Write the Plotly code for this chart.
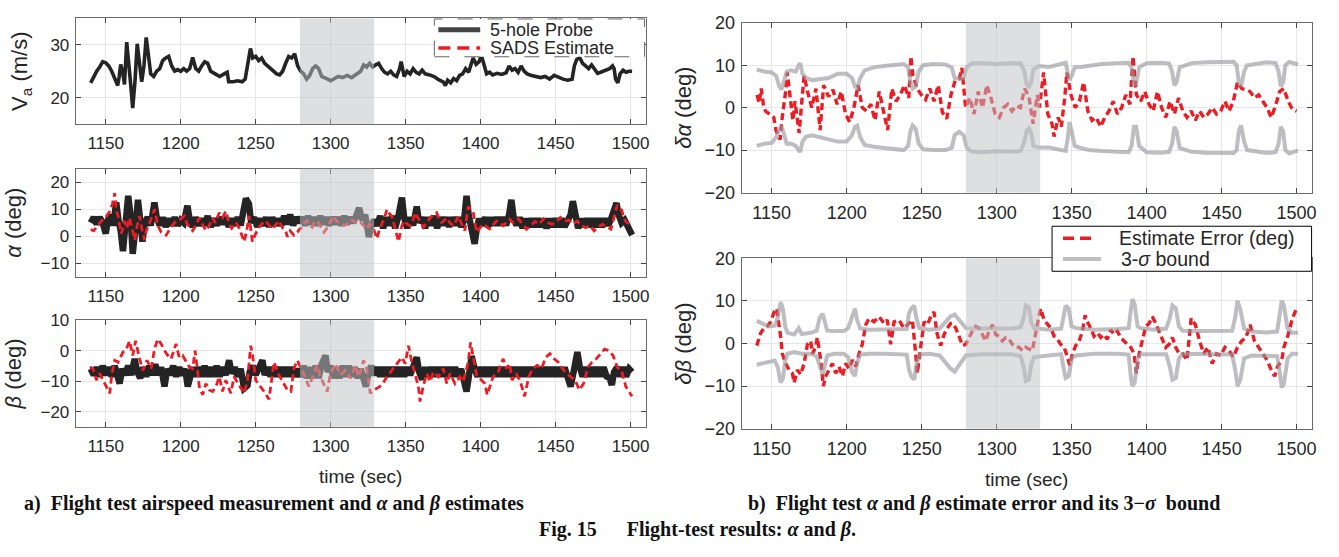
import plotly.graph_objects as go

# ---------------- data (time [s], value) ----------------
VA = [(1140,22.8),(1142,24),(1144,25),(1146,25.8),(1148,26.8),(1150,26.6),(1152,26),(1154,25),(1156,23.8),(1158,22.3),(1159,24),(1160,26.3),(1161.5,24.5),(1162.5,22.5),(1164,30.5),(1165,28),(1166.5,23),(1168,18),(1169.5,23),(1171,30.2),(1172.5,27),(1174,23),(1175.5,26),(1177,31.4),(1178.5,28),(1180,24.5),(1182,24),(1184,25),(1186,25.5),(1188,27),(1190,27.5),(1192,27.8),(1194,26),(1196,25),(1198,25.3),(1200,25),(1202,25.5),(1204,25),(1206,25.5),(1208,27.6),(1210,25.5),(1212,25),(1214,26),(1216,26.8),(1218,26.5),(1220,25),(1223,24.5),(1226,24),(1229,24.5),(1231,24.8),(1232,23),(1235,23),(1238,23.2),(1241,23),(1243,23.5),(1245,27.5),(1246.5,29.3),(1248,27.5),(1250,27.8),(1252,27),(1254,27.5),(1256,26.5),(1258,26),(1260,25.5),(1262,24.8),(1264,24.5),(1266,24.3),(1268,25),(1270,26.5),(1272,27.8),(1274,27.5),(1276,28.3),(1278,26),(1280,25),(1282,24.5),(1284,23.5),(1286,24.2),(1288,25.5),(1290,26),(1292,25.5),(1294,24),(1296,23.8),(1298,23.5),(1300,23.2),(1302,23.5),(1305,24),(1308,23.8),(1311,24.2),(1314,23.8),(1317,24.5),(1320,25),(1322,26.2),(1324,25.8),(1326,26.5),(1328,25.8),(1330,26.2),(1332,26.5),(1334,25.5),(1336,24.8),(1338,24.5),(1340,25),(1342,24.3),(1344,24),(1346,25.5),(1347,26.8),(1349,24),(1351,25),(1353,24.5),(1355,25.5),(1357,24.8),(1359,24.5),(1361,25.2),(1363,24.5),(1366,24.3),(1369,24),(1372,23.4),(1375,23),(1376.5,22.3),(1378,23.3),(1380,22.8),(1382,23.6),(1384,23.2),(1386,24.2),(1388,24.5),(1390,25.5),(1392,24.8),(1394,26.5),(1395,27.5),(1397,26.3),(1399,26.8),(1400.5,28),(1402,26.5),(1404,24.5),(1406,24.8),(1408,24.3),(1411,24.6),(1414,24.4),(1417,24.7),(1419,26),(1421,25.2),(1423,25.5),(1425,24.8),(1427,26),(1429,25),(1431,24.5),(1434,24.2),(1437,24),(1440,23.8),(1443,24),(1446,23.5),(1449,24.2),(1452,23.8),(1455,23.5),(1458,23.3),(1461,23.5),(1462.5,26),(1464,27.2),(1466,27.6),(1468,26.5),(1470,26),(1472,25.5),(1474,26.2),(1476,25.5),(1478,24.6),(1480,24.8),(1482,25),(1484,25.2),(1486,25.5),(1488,26),(1489,25.5),(1490,23.5),(1491.5,22.8),(1493,24.5),(1495,25.2),(1497,24.8),(1499,25),(1501,25)]

ALPHA_PROBE = [(1140,5),(1142,7),(1144,4.5),(1146,7),(1148,5),(1150,1),(1151.5,6),(1153,8),(1155,4),(1157,12.5),(1158.5,6),(1160,2),(1161.5,-5.5),(1163,4),(1165,15),(1166.5,8),(1168,-6.5),(1170,4),(1171.5,13.5),(1173,6),(1174.5,-2),(1176,5),(1178,7),(1180,4),(1182.5,12.5),(1184,7),(1186,4),(1188,7),(1190,3.5),(1192,6.5),(1194,4),(1196,7),(1198,4),(1200,6),(1202,5),(1204.5,11.3),(1206,6),(1208,3.5),(1210,7),(1212,4),(1214,6.5),(1216,4),(1218,7.5),(1220,3.5),(1222,6.5),(1224,4),(1226,7),(1228,4.5),(1230,7),(1232,3.5),(1234,6.5),(1236,4),(1238,7),(1240,4),(1243.5,14),(1245.5,12),(1247,5),(1249,7),(1251,3.5),(1253,6.5),(1255,4),(1257,7),(1259,3.5),(1261,7),(1263,4),(1265,6.5),(1267,4),(1269,7.5),(1271,4.5),(1273,8),(1275,4),(1277,7),(1279,5),(1281,7),(1283,4),(1285,7.5),(1287,4.5),(1289,7),(1291,4),(1293,7.5),(1295,4.5),(1297,7),(1299,4),(1301,7),(1303,4.5),(1305,7),(1307,4),(1309,7.5),(1311,4.5),(1313,7),(1315,5),(1317,7.5),(1319,10.5),(1321,6),(1323,8),(1325.5,-0.3),(1327,4),(1329,6),(1331,4),(1333,7.5),(1335,3),(1337,7),(1339,4),(1341,7.5),(1343,3),(1345,7),(1347.5,14.3),(1349,7),(1351,3),(1353,7),(1355,4),(1357.4,11),(1359,5),(1361,7),(1363,3),(1365,7),(1367,4),(1369,7.5),(1371,3),(1373,7),(1375,4),(1377,7),(1379,3.5),(1381,7),(1383,4),(1385,7),(1387,3.5),(1389,6),(1390.6,15),(1392,8),(1394,2),(1396,-2.8),(1397.5,3),(1399,6.5),(1401,4),(1403,7),(1405,3.5),(1407,7),(1409,4),(1411,7),(1413,4),(1415,7),(1417,4),(1419,8),(1420.5,13.5),(1422,7),(1424,4),(1426,7),(1428,3),(1430,6.5),(1432,3.5),(1434,6.5),(1436,3.5),(1438,6.5),(1440,3.5),(1442,6.5),(1444,3),(1446,6.5),(1448,3.5),(1450,6.5),(1452,3.5),(1454,6.5),(1456,3.5),(1458,6),(1460,8),(1461.5,13),(1463,7),(1465,3),(1467,6.5),(1469,3.5),(1471,6.5),(1473,3.5),(1475,6.5),(1477,3.5),(1479,6.5),(1481,3.5),(1483,6.5),(1485,4),(1487,6.5),(1489,9),(1490.6,12.3),(1492,8),(1494,5),(1496,6),(1498,3.5),(1500,2),(1501,0.5)]

ALPHA_EST = [(1140,2.5),(1142,2),(1144,3.5),(1146,5),(1148.2,6.3),(1150,7),(1152.7,9.3),(1154.5,12),(1156,16),(1157,10),(1158.2,7.5),(1159.3,4),(1160.4,1),(1161.5,3),(1162.6,5.7),(1164,3),(1165.9,6.8),(1167.5,3),(1169.3,-1.4),(1171,4),(1172.6,7.5),(1174,3),(1175.9,-1.4),(1177,2),(1178.1,3.4),(1180,6),(1182.5,10),(1183.5,7),(1184.7,4),(1187,1.5),(1190.3,0.4),(1192,2),(1193.6,3.4),(1196.9,5.7),(1199,6),(1202.5,7.5),(1204,5),(1205.8,3.4),(1208,2.1),(1210,4),(1212.4,6.8),(1214,5),(1216.8,2.1),(1219,4),(1221.3,6.8),(1223,5),(1225.7,8.7),(1228,7),(1230.1,9.3),(1232.3,4.6),(1234,3),(1236.8,5.1),(1239,3),(1242.3,-2),(1244,2),(1245.6,7.5),(1246.7,3),(1247.8,-2),(1250,1),(1252.3,3.4),(1254,4.5),(1256.7,5.7),(1259,4),(1261.1,2.7),(1263,4),(1265.5,5.7),(1268,3),(1270,2.1),(1271.1,-0.2),(1273,2),(1275.5,0.4),(1277.8,1.5),(1279,2.5),(1281.1,3.4),(1282.5,5),(1284.4,5.7),(1286,4),(1287.7,3.4),(1289,5),(1291,5.7),(1293,4),(1295.5,1.5),(1297.5,3),(1299.9,5.1),(1302.1,7.5),(1304,5.5),(1306.5,5.1),(1309,4),(1311,4.5),(1313,6),(1315.4,5.7),(1317.5,4.5),(1319.8,5.1),(1322,4),(1324.2,2.7),(1326,4.5),(1327.6,3.9),(1329,2),(1330.9,-0.8),(1332.5,2.5),(1334.2,4.5),(1336,7),(1337.5,9.9),(1339,8.5),(1340.8,7.5),(1343,3),(1345.3,-2),(1347,3),(1348.6,5.7),(1351,4.5),(1353,3.9),(1355,6),(1356.3,8.7),(1358,7),(1359.6,5.7),(1361.9,3.4),(1364,5),(1366.3,6.8),(1368.5,8),(1370.7,8.7),(1372.5,6),(1374,5.1),(1376,6),(1377.4,6.8),(1379.5,5),(1381.8,3.9),(1383.5,5.5),(1385.1,7.5),(1387,5),(1389.5,2.1),(1391.7,11),(1393.5,10),(1395.1,8.7),(1397.3,1.5),(1399.5,3),(1401.7,4.5),(1404,3.5),(1406.1,2.7),(1408,4),(1410.6,5.7),(1413,5),(1415,3.9),(1417,5),(1419.4,6.3),(1421.6,5),(1423,5.5),(1425.1,6.5),(1428,4.5),(1430.7,2.6),(1433.5,4),(1436.3,5.5),(1439,4.5),(1442,6.5),(1445,5),(1447.6,4.4),(1450.5,5.5),(1453.2,7),(1456,5.5),(1458.8,6),(1461.5,4.5),(1464.4,5.6),(1467,4),(1470.1,3.2),(1473,4),(1475.7,2),(1478.5,3.5),(1481.3,4.4),(1484,3.5),(1486.9,2.6),(1489,7),(1491.1,11.5),(1492.5,10),(1494,9.8),(1495.5,7),(1496.8,5.5),(1499,4.5),(1501,4)]

BETA_PROBE = [(1140,-6),(1142,-8),(1144,-5.5),(1146,-8.5),(1148,-5),(1150,-8),(1152,-5.5),(1154,-8.5),(1156,-5),(1158,-9),(1159.3,-10.8),(1161,-6),(1163,-8),(1165,-5),(1167,-8),(1169.3,-2.7),(1171,-7),(1173,-9),(1175,-5.5),(1177,-8.5),(1179,-5),(1181,-8),(1183,-4.5),(1185,-8),(1187,-5.5),(1189.2,-11.8),(1191,-6),(1193,-8),(1195,-5),(1197,-8.5),(1199,-5.5),(1201,-8),(1203,-6),(1204.7,-11.8),(1206.5,-8),(1208,-5.5),(1210,-8.5),(1212,-5.5),(1214,-8.5),(1216,-5),(1218,-8.5),(1220,-5.5),(1222,-8.5),(1224,-5),(1226,-8.5),(1228,-5.5),(1230,-8),(1232.3,-3.2),(1234,-7.5),(1236,-5.5),(1238,-8.5),(1240,-6),(1242.3,-12.4),(1244.5,-11.5),(1246,-7),(1248,-5),(1250,-8),(1252,-5.5),(1254.5,-3.2),(1256,-8),(1258,-5.5),(1260,-8.5),(1262,-5.5),(1264,-8.5),(1266,-5.5),(1268,-8.5),(1270,-5.5),(1272,-8.5),(1274,-5.5),(1276,-8.5),(1278,-6),(1280,-8.5),(1282,-5),(1284,-9),(1286,-5.5),(1288,-9),(1290,-5),(1292,-9),(1294,-4.5),(1296.6,-1.6),(1298,-7),(1300,-5),(1302,-9),(1304,-5.5),(1306,-9),(1308,-5),(1310,-8.5),(1312,-5),(1314,-8.5),(1316,-5.5),(1318,-9),(1320,-6),(1322,-10.5),(1323.5,-11.8),(1325,-8),(1327,-5),(1329,-8),(1331,-5.5),(1333,-8.5),(1335,-5.5),(1337,-8.5),(1339,-5.5),(1341,-8.5),(1343,-5.5),(1345,-8.5),(1347,-5.5),(1349,-8.5),(1351,-5.5),(1353,-8),(1355,-5),(1357.4,-2.2),(1359,-7),(1361,-9.5),(1363,-5.5),(1365,-8.5),(1367,-5.5),(1369,-8.5),(1371,-5.5),(1373,-8.5),(1375,-5.5),(1377,-8.5),(1379,-5.5),(1381,-8.5),(1383,-5.5),(1385,-8.5),(1387,-6),(1389,-10),(1390.6,-13.4),(1392,-9),(1394,-1.8),(1396,-6),(1398,-8.5),(1400,-5.5),(1402,-8.5),(1404,-5.5),(1406,-8.5),(1408,-5.5),(1410,-8.5),(1412,-5.5),(1414,-8.5),(1416,-5.5),(1418,-8.5),(1420,-5.5),(1422,-8.5),(1424,-5.5),(1426,-8.5),(1428,-5.5),(1430,-8.5),(1432,-5.5),(1434,-8.5),(1436,-5.5),(1438,-8.5),(1440,-5.5),(1442,-8.5),(1444,-5.5),(1446,-8.5),(1448,-5.5),(1450,-8.5),(1452,-5.5),(1454,-8.5),(1456,-5.5),(1458,-9),(1460,-11.8),(1462,-7),(1464.5,-0.5),(1466,-5),(1468,-8.5),(1470,-5.5),(1472,-8.5),(1474,-5.5),(1476,-8.5),(1478,-5.5),(1480,-8.5),(1482,-5.5),(1484,-8.5),(1486,-9),(1487.5,-11.3),(1489,-7),(1491,-5.5),(1493,-8.5),(1495,-5.5),(1497,-8.5),(1499,-6),(1501,-7)]

BETA_EST = [(1139.4,-5.4),(1141.6,-6),(1143.8,-9.7),(1146,-7.5),(1148.2,-9.7),(1150.4,-11.8),(1152.7,-14),(1154,-8),(1156,-3.2),(1158.2,-3.8),(1160,-2),(1161.5,-0.5),(1163.7,0.5),(1165.9,3.2),(1168,-1.6),(1169.9,3.2),(1172.6,-2.7),(1174.8,-6.5),(1177.5,-3.2),(1180.4,-5.9),(1182.5,0.5),(1184.7,3.8),(1187,2.2),(1189.2,0),(1191.4,-1.6),(1193.6,-2.7),(1196.9,2.2),(1199,-2.2),(1201.3,-1.6),(1203.6,-3.8),(1205.8,-5.4),(1208,-5.9),(1209.6,0),(1211.1,-5.9),(1212.4,-11.8),(1214.6,-14.5),(1216.8,-10.8),(1219,-12.9),(1221.3,-13.4),(1223.5,-11.8),(1225.7,-8.6),(1227.9,-13.4),(1230.1,-9.7),(1233.4,-14),(1235.6,-8.6),(1238.9,-11.3),(1242.3,-14),(1244.5,-9.7),(1246.7,1.6),(1247.8,-1),(1250,-9.7),(1252.3,-11.3),(1255.6,-13.4),(1258.9,-16),(1262.2,-3.8),(1265.5,-8),(1267.8,-10.2),(1271.1,-12.9),(1273.5,-13.4),(1275.5,-5.9),(1277.8,-3.2),(1281.1,-6.5),(1283.3,-9.1),(1285.5,-11.8),(1287.7,-9.1),(1291,-4.8),(1293.2,-8.6),(1295.5,-10.8),(1297.7,-13.4),(1299.9,-7.5),(1303.2,-4.3),(1306.5,-8),(1309.8,-6.5),(1313.2,-9.1),(1316.5,-4.8),(1318.7,-8.6),(1322,-3.2),(1324.2,-6.5),(1326.4,-14),(1328.7,-12.9),(1330.9,-12.4),(1334.2,-11.3),(1337.5,-8.6),(1340.8,-6.5),(1344.2,-4.3),(1347.5,-2.2),(1349.7,-4.3),(1351.9,1.6),(1354.1,-3.8),(1356.3,-7.5),(1358.5,-11.8),(1359.6,-16.7),(1361.9,-11.3),(1364.1,-7.5),(1366.3,-10.2),(1368.5,-7),(1371.8,-8.6),(1375.1,-5.9),(1377.4,-10.8),(1379.6,-7.5),(1382.9,-10.8),(1386.2,-8.6),(1388.4,-10.2),(1391.7,-3.8),(1393.3,2.7),(1395.1,-2.2),(1397.3,-8),(1400.6,-9.7),(1402.8,-10.8),(1404.4,-14.5),(1406.1,-11.8),(1408.3,-8.6),(1411.7,-7),(1415,-2.7),(1417.2,-5.9),(1419.4,-4.3),(1420.9,-9.7),(1423.7,-7.5),(1426.5,-10.2),(1429.3,-15),(1432.1,-8.6),(1434.9,-5.9),(1437.7,-4.8),(1440.6,-5.9),(1443.4,-2.2),(1446.2,-1),(1449,-2.7),(1451.8,-3.8),(1454.6,-5.9),(1457.4,-7.5),(1460.2,-8.6),(1463,-9.7),(1465.8,-12.9),(1468.7,-10.8),(1471.5,-5.4),(1474.3,-3.8),(1477.1,-2.7),(1479.9,-1),(1482.7,0.5),(1485.5,0),(1488.3,-1.6),(1491.1,-5.4),(1493.9,-6.5),(1496.8,-11.8),(1499.5,-14),(1500.9,-15)]

DALPHA_ERR = [(1140.2,3),(1141.6,1.1),(1143,4.5),(1144.4,0.8),(1145.8,-0.8),(1148.6,-1.5),(1151.4,-2.3),(1152.8,-5.3),(1155.6,-7.5),(1157,-2.3),(1159.3,3.8),(1160.4,8.3),(1162.6,1.5),(1164.1,-3),(1165.5,1.5),(1168.3,-6),(1169.7,0),(1171.6,7.5),(1173.9,3.8),(1176.7,0),(1179.5,4.5),(1182.3,-5.3),(1184.6,5.3),(1187.9,2.6),(1190.8,4.2),(1193.6,0.8),(1196.4,3.8),(1199.2,-1.5),(1202,-3.4),(1204.8,0),(1207.6,5.3),(1210.4,0),(1213.2,-0.8),(1216.1,0.8),(1218.9,-3),(1221.7,3.8),(1224.5,-0.8),(1227.3,-5.3),(1230.1,4.5),(1232.9,1.5),(1235.7,3),(1238.5,5.3),(1241.4,2.3),(1242.8,12.1),(1244.2,7.5),(1247,4.5),(1249.8,3),(1252.6,1.9),(1255.4,4.5),(1258.2,1.5),(1261,5.3),(1263.8,-1.1),(1266.7,-2.6),(1269.5,3),(1272.3,6.4),(1275.1,6.8),(1276.8,9.4),(1279.3,0),(1282.1,2.3),(1284.9,-1.5),(1287.7,3.8),(1290.6,0),(1293.4,5.3),(1296.2,2.3),(1299,-1.5),(1301.8,-2.3),(1304.6,0),(1307.4,0.8),(1310.2,-0.8),(1313,0.4),(1315.8,0),(1318.7,4.5),(1321.5,2.6),(1324.3,-3.8),(1327.1,3),(1328.5,0),(1331.3,8.3),(1334.1,-1.5),(1336.9,-3.8),(1338.3,-6.8),(1341.1,-2.3),(1343.1,-4.5),(1345.4,2.3),(1346.8,8.3),(1349.6,3),(1352.4,0),(1355.2,1.5),(1358,6),(1360.8,-0.8),(1363.6,-3),(1366.4,-2.3),(1369.3,-4.5),(1372.1,-2.3),(1374.9,-0.8),(1377.7,1.5),(1380.5,-1.5),(1383.3,0),(1386.1,3),(1388.9,0.8),(1390.9,12.1),(1393.2,3),(1396,1.5),(1398.8,3.8),(1401.6,0.8),(1404.4,-0.8),(1407.2,3.8),(1410,0),(1412.8,-2.3),(1415.6,1.5),(1418.5,-1.5),(1421.3,2.3),(1424.1,-0.8),(1426.9,-2.3),(1429.7,-0.8),(1432.5,-3),(1435.3,-0.8),(1438.1,-2.3),(1440.9,-1.5),(1443.7,0),(1446.6,-1.5),(1449.4,-0.8),(1452.2,1.5),(1455,-0.8),(1457.8,1.5),(1460.6,6),(1463.4,4.5),(1466.2,4.2),(1469,3.8),(1471.9,2.3),(1474.7,3),(1477.5,1.5),(1480.3,0),(1483.1,-2.3),(1485.9,0.4),(1488.7,3.8),(1491.5,4.5),(1494.4,1.5),(1497.2,-0.4),(1500,-0.8)]

DALPHA_UP = [(1140,9),(1145,8.5),(1150,8.3),(1153,7.5),(1155,5),(1156.5,4.3),(1158,6),(1160,8.5),(1163,8.8),(1166,8.5),(1168,10),(1169,10.5),(1170.5,8),(1173,7),(1177,6.5),(1182,6.8),(1188,7),(1194,8),(1200,8),(1203.5,7),(1205.5,5),(1207,4.6),(1209,7),(1212,8.8),(1218,9.5),(1225,9.8),(1232,10),(1238,10.3),(1241,9.5),(1242.5,6),(1244,4.5),(1246,5),(1248,8.5),(1251,10),(1258,10.3),(1266,10.2),(1270,9.5),(1272,7),(1275,6.8),(1278,7),(1280,9.5),(1283,10.4),(1290,10.5),(1300,10.3),(1310,10.5),(1316,10.4),(1318.5,8.5),(1320,5.5),(1321.5,5),(1323,6),(1324.5,9),(1328,9.8),(1335,9.6),(1342,10.2),(1346,10.6),(1347.5,8),(1348.5,6.5),(1350,7.5),(1352,9.5),(1356,9.6),(1362,10),(1370,10.3),(1380,10.5),(1388,10.6),(1390,9.5),(1391.5,5.5),(1393,5.5),(1395,9.5),(1400,10.5),(1410,10.6),(1415,10.4),(1417,8.5),(1418.5,5.3),(1420,6),(1422,9.5),(1430,10.5),(1440,10.7),(1450,10.8),(1458,10.8),(1460,10),(1461.5,6),(1463,5),(1465,8.5),(1467,10),(1475,10.5),(1480,10.7),(1486,10.5),(1488,8.5),(1489.5,5),(1491,6),(1492.5,10),(1495,10.8),(1500,10.3),(1501,10.2)]

DALPHA_LO = [(1140,-9),(1145,-8.5),(1150,-8.3),(1153,-7),(1155,-5),(1156.5,-4.5),(1158,-6),(1160,-8.5),(1163,-8.5),(1166,-9),(1168,-10),(1169,-10.5),(1170.5,-8),(1173,-6.8),(1177,-6.5),(1182,-7),(1188,-7.5),(1194,-8),(1200,-8),(1203.5,-6.5),(1205.5,-4.5),(1207,-4.2),(1209,-7),(1212,-8.8),(1218,-9.2),(1225,-9.5),(1232,-9.8),(1238,-10),(1241,-9),(1242.5,-5.5),(1244,-4.2),(1246,-5),(1248,-8.5),(1251,-9.8),(1258,-10),(1266,-10),(1270,-9.5),(1272,-6.5),(1275,-5.7),(1278,-6.5),(1280,-9.4),(1283,-10.3),(1290,-10.5),(1300,-10.3),(1310,-10.4),(1316,-10.2),(1318.5,-8),(1320,-5.5),(1321.5,-4.9),(1323,-6),(1324.5,-9),(1328,-9.4),(1335,-9.4),(1342,-10),(1346,-10.2),(1347.5,-7),(1348.5,-3.4),(1350,-5.5),(1352,-9),(1356,-9.5),(1362,-10),(1370,-10.2),(1380,-10.4),(1388,-10.5),(1390,-9),(1391.5,-4.5),(1393,-4.5),(1395,-9),(1400,-10.5),(1410,-10.6),(1415,-10.4),(1417,-8.5),(1418.5,-4.5),(1420,-5.5),(1422,-9.5),(1430,-10.4),(1440,-10.6),(1450,-10.7),(1458,-10.7),(1460,-10),(1461.5,-5.5),(1463,-4.2),(1465,-8),(1467,-10),(1475,-10.5),(1480,-10.7),(1486,-10.5),(1488,-8.5),(1489.5,-4.5),(1491,-5.5),(1492.5,-10),(1495,-10.8),(1500,-10.2),(1501,-10.2)]

DBETA_ERR = [(1140,-0.5),(1141.6,1.4),(1142.7,2.5),(1144.9,3.6),(1147.1,4),(1149.3,5.1),(1151.6,7.4),(1153.3,8.2),(1154.9,4.4),(1156,1.4),(1157.1,-2.4),(1159.3,-4.7),(1161.6,-6.2),(1163.8,-7),(1164.9,-9.2),(1167.1,-6.2),(1169.3,-7.3),(1171.6,-4.7),(1173.8,-0.2),(1176,0.6),(1177.1,-2.4),(1179.3,-0.9),(1180.4,1.4),(1182.7,-3.9),(1184.4,-10),(1186,-7.7),(1188.2,-6.2),(1190.4,-4.7),(1192.7,-7),(1194.9,-5.4),(1197.1,-7.7),(1199.3,-4.7),(1201.6,-5.9),(1203.8,-3.9),(1206,-5.4),(1208.2,-2.4),(1210.4,-0.2),(1212.7,4.4),(1214.9,5.9),(1218.2,5.1),(1221.6,6.3),(1224.9,4.7),(1227.1,5.5),(1229.3,-0.2),(1231.6,5.1),(1234.9,5.5),(1238.2,3.6),(1241.6,4.7),(1243.8,5.5),(1246,-2.4),(1247.1,-7),(1249.3,-0.9),(1251.6,5.1),(1253.8,4.4),(1256.4,6.6),(1258.2,7.4),(1260.4,2.1),(1262.7,-0.5),(1264.9,2.1),(1267.1,3.6),(1269.3,4.7),(1270.5,4.8),(1272.7,3.6),(1274.9,1.7),(1277.2,-0.5),(1279.4,-0.2),(1281.6,1.4),(1283.8,2.9),(1286,4),(1288.3,3.6),(1290.5,2.1),(1292.7,0.6),(1294.9,2.9),(1297.2,4.4),(1299.4,2.1),(1301.6,1.7),(1303.8,0.6),(1306.1,1.4),(1308.3,1),(1310.5,-0.2),(1312.7,-0.9),(1314.9,-0.9),(1317.2,-1.7),(1319.4,-0.9),(1321.6,-1.3),(1323.8,-1.7),(1328.3,6.6),(1329.4,8.2),(1331.6,5.5),(1333.8,4.7),(1336.1,3.6),(1338.3,1.7),(1340.5,1),(1342.7,-0.2),(1345,-0.9),(1347.2,-3.2),(1348.7,-5.1),(1350.5,-2.4),(1352.7,-0.5),(1355,0.6),(1357.2,2.9),(1359,6.6),(1360.5,5.1),(1362.7,3.6),(1364.9,1.7),(1367.2,2.5),(1369.4,1.4),(1371.6,2.1),(1373.8,1),(1376.1,3.2),(1378.3,2.1),(1380.5,2.9),(1382.7,1.4),(1384.9,0.6),(1387.2,-0.2),(1389.4,-0.9),(1391.6,-2.4),(1393.2,-7),(1395,-2.4),(1397.2,0.6),(1399.4,4),(1401.6,4.7),(1403.8,6.3),(1406.1,4.7),(1408.3,2.9),(1410.5,1),(1412.7,-0.9),(1415,-0.2),(1417.2,1.4),(1419.4,-0.9),(1421.6,-2.4),(1424.1,-2.4),(1426.9,-3.9),(1429.7,5.9),(1432.5,4.4),(1435.3,0.6),(1438.1,-2.4),(1440.9,-0.9),(1443.7,-4.7),(1446.6,-2.4),(1449.4,-2.8),(1452.2,-0.9),(1455,-1.7),(1457.8,-3.2),(1460.6,-0.9),(1463.4,0.6),(1466.2,1.4),(1469,4.4),(1471.9,0.6),(1474.7,-0.9),(1477.5,-2.4),(1480.3,-3.9),(1483.1,-6.2),(1485.4,-7.7),(1487.3,-5.4),(1490.1,-3.9),(1491.5,-0.9),(1494.4,2.1),(1497.2,5.9),(1500,8.2)]

DBETA_UP = [(1140,5.3),(1143,4.8),(1148,4),(1152,4.2),(1154,6),(1156,9.7),(1157.5,8),(1159,4),(1160.5,2.5),(1165,2.1),(1168,3.6),(1170,2.2),(1176,2.5),(1180,3),(1182,6),(1184,7),(1185.5,5),(1187,3),(1192,2.9),(1198,2.9),(1201,3.6),(1203.5,6.5),(1205.5,8.2),(1207,5.5),(1209,3.5),(1215,3.2),(1225,3.2),(1235,3.2),(1240,3.4),(1241.5,7),(1243,8.2),(1245,8.9),(1246.5,6),(1248.5,3.6),(1255,3.2),(1262,3.5),(1266,5),(1269,6.3),(1272,6.8),(1275,5.5),(1277,4.5),(1279.5,3.6),(1290,3.5),(1300,3.6),(1310,3.5),(1316,3.8),(1318,6),(1319.5,8.9),(1321.5,8.5),(1323,5),(1325,3.6),(1335,3.2),(1343,3.5),(1344.5,6),(1346,8.9),(1348,8.2),(1350,4),(1353,3.6),(1365,3.2),(1380,3.4),(1388,3.6),(1389.5,8),(1390.5,10.4),(1392,9.2),(1394,4),(1396,3.6),(1405,3.2),(1413,3.5),(1415.5,6),(1417.2,8.9),(1419.5,8.2),(1421.5,4),(1424,3),(1435,2.9),(1445,2.9),(1457,3),(1459,6),(1460.6,10),(1462.5,8),(1465,3.5),(1470,2.8),(1480,2.6),(1487,2.8),(1488.5,6),(1490.1,10),(1491.5,9),(1494,3.5),(1497,2.5),(1500,2.5),(1501,2.5)]

DBETA_LO = [(1140,-5),(1143,-4.8),(1148,-4.3),(1152,-4),(1154,-5.5),(1156,-9.2),(1157.5,-8.2),(1159,-4),(1160.5,-2.4),(1165,-2),(1170,-2.4),(1176,-2.4),(1180,-3),(1182,-5.4),(1184,-7.3),(1185.5,-5),(1187,-2.8),(1192,-2.4),(1198,-2.4),(1201,-3.2),(1203.5,-6.6),(1205.5,-7.7),(1207,-4.5),(1209,-2.6),(1215,-2.4),(1225,-2.4),(1235,-2.4),(1240,-2.6),(1241.5,-6),(1243,-7.7),(1245,-8.5),(1246.5,-5),(1248.5,-2.6),(1255,-2.4),(1262,-2.8),(1266,-4.5),(1269,-5.8),(1272,-6.6),(1275,-5),(1277,-3.8),(1279.5,-2.8),(1290,-2.5),(1300,-2.4),(1310,-2.5),(1316,-3),(1318,-5.5),(1319.5,-8.8),(1321.5,-8.5),(1323,-5),(1325,-3.2),(1335,-2.8),(1343,-2.5),(1344.5,-5.5),(1346,-8.1),(1348,-7.7),(1350,-3.5),(1353,-2.8),(1365,-2.4),(1380,-2.4),(1388,-2.6),(1389.5,-8),(1390.5,-10),(1392,-9.2),(1394,-3.5),(1396,-2.5),(1405,-2.4),(1413,-2.5),(1415.5,-5.5),(1417.2,-8.5),(1419.5,-8.1),(1421.5,-3.5),(1424,-2.4),(1435,-2.4),(1445,-2.5),(1457,-2.6),(1459,-6),(1460.6,-10),(1462.5,-8.5),(1465,-3.5),(1470,-2.8),(1480,-2.8),(1487,-3),(1488.5,-6),(1490.1,-10.3),(1491.5,-9.5),(1494,-3.5),(1497,-2.4),(1500,-2.4),(1501,-2.4)]

SHADE = (1279.5, 1329)          # highlighted time window
X_RANGE = [1130, 1510]
X_TICKS = [1150, 1200, 1250, 1300, 1350, 1400, 1450, 1500]
Y_RANGES = {"va": [15, 35], "alpha": [-15, 25], "beta": [-25, 10], "dalpha": [-20, 20], "dbeta": [-20, 20]}
Y_TICKS = {"va": [20, 30], "alpha": [-10, 0, 10, 20], "beta": [-20, -10, 0, 10],
           "dalpha": [-20, -10, 0, 10, 20], "dbeta": [-20, -10, 0, 10, 20]}
LEGEND_LEFT = ["5-hole Probe", "SADS Estimate"]
LEGEND_RIGHT = ["Estimate Error (deg)", "3-<i>σ</i> bound"]

# ---------------- styling ----------------
W, H = 1339, 557
SANS = "Liberation Sans, Arial, Helvetica, sans-serif"
SERIF = "Liberation Serif, Times New Roman, serif"
TXT = "#262626"
BLACK = "#242424"
RED = "#ec1c24"
BOUND = "rgba(150,150,156,0.62)"
DASH = "7px,4px"

def xs(p): return [a for a, _ in p]
def ys(p): return [b for _, b in p]
def dx(a, b): return [a / W, b / W]
def dy(top, bottom): return [1 - bottom / H, 1 - top / H]
def px(x): return x / W
def py(y): return 1 - y / H

fig = go.Figure()

def line(data, ax, color, width, dash=None, name=None):
    fig.add_trace(go.Scatter(
        x=xs(data), y=ys(data), mode="lines", xaxis="x" + ax, yaxis="y" + ax,
        line=dict(color=color, width=width, dash=dash), name=name,
        showlegend=False, hoverinfo="skip"))

line(VA, "", BLACK, 3.6, name="5-hole Probe")
line(ALPHA_PROBE, "2", BLACK, 6.5, name="5-hole Probe")
line(ALPHA_EST, "2", RED, 2.8, dash=DASH, name="SADS Estimate")
line(BETA_PROBE, "3", BLACK, 6.5, name="5-hole Probe")
line(BETA_EST, "3", RED, 2.8, dash=DASH, name="SADS Estimate")
line(DALPHA_ERR, "4", RED, 3.4, dash=DASH, name="Estimate Error (deg)")
line(DALPHA_UP, "4", BOUND, 4, name="3-σ bound")
line(DALPHA_LO, "4", BOUND, 4, name="3-σ bound")
line(DBETA_ERR, "5", RED, 3.4, dash=DASH, name="Estimate Error (deg)")
line(DBETA_UP, "5", BOUND, 4, name="3-σ bound")
line(DBETA_LO, "5", BOUND, 4, name="3-σ bound")

common = dict(ticks="inside", ticklen=5, tickcolor="#444", showline=True, linecolor="#6b6b6b",
              linewidth=1, mirror="ticks", showgrid=True, gridcolor="#e6e6e6", gridwidth=1,
              zeroline=False)

def xaxis(domain, anchor, size, title=None):
    d = dict(domain=domain, anchor=anchor, range=X_RANGE, tickvals=X_TICKS,
             ticklabelstandoff=4, tickfont=dict(family=SANS, size=size, color=TXT), **common)
    if title:
        d["title"] = dict(text=title, font=dict(family=SANS, size=19, color=TXT), standoff=14)
    return d

def yaxis(domain, anchor, key, title, size, standoff):
    return dict(domain=domain, anchor=anchor, range=Y_RANGES[key], tickvals=Y_TICKS[key],
                ticklabelstandoff=2, tickfont=dict(family=SANS, size=size, color=TXT), **common,
                title=dict(text=title, font=dict(family=SANS, size=22, color=TXT), standoff=standoff))

LX = dx(76, 648)
RX = dx(744.5, 1316.5)
fig.update_layout(
    width=W, height=H, margin=dict(l=0, r=0, t=0, b=0),
    paper_bgcolor="white", plot_bgcolor="white", showlegend=False,
    font=dict(family=SANS, color=TXT),
    xaxis=xaxis(LX, "y", 17), yaxis=yaxis(dy(8.7, 118.3), "x", "va", "V<sub>a</sub> (m/s)", 17, 16),
    xaxis2=xaxis(LX, "y2", 17), yaxis2=yaxis(dy(164.7, 276.7), "x2", "alpha", "<i>α</i> (deg)", 17, 12),
    xaxis3=xaxis(LX, "y3", 17, "time (sec)"), yaxis3=yaxis(dy(321.7, 432.3), "x3", "beta", "<i>β</i> (deg)", 17, 12),
    xaxis4=xaxis(RX, "y4", 18), yaxis4=yaxis(dy(13.3, 189.3), "x4", "dalpha", "<i>δα</i> (deg)", 18, 6),
    xaxis5=xaxis(RX, "y5", 18, "time (sec)"), yaxis5=yaxis(dy(257.5, 434.3), "x5", "dbeta", "<i>δβ</i> (deg)", 18, 6),
)

shapes = []
for ax in ["", "2", "3", "4", "5"]:
    shapes.append(dict(type="rect", xref="x" + ax, yref=("y" + ax) + " domain",
                       x0=SHADE[0], x1=SHADE[1], y0=0, y1=1, fillcolor="rgb(192,193,196)",
                       opacity=0.52, line=dict(width=0), layer="above"))

# legend boxes (drawn in page coordinates)
shapes += [
    dict(type="rect", xref="paper", yref="paper", x0=px(436), x1=px(647), y0=py(48.5), y1=py(9.3),
         fillcolor="white", line=dict(color="#666", width=1, dash="longdash"), layer="above"),
    dict(type="line", xref="paper", yref="paper", x0=px(440), x1=px(482), y0=py(20.5), y1=py(20.5),
         line=dict(color="#444", width=5), layer="above"),
    dict(type="line", xref="paper", yref="paper", x0=px(440), x1=px(482), y0=py(39.3), y1=py(39.3),
         line=dict(color=RED, width=3.5, dash="12px,7px"), layer="above"),
    dict(type="rect", xref="paper", yref="paper", x0=px(1056), x1=px(1316.5), y0=py(271), y1=py(224.3),
         fillcolor="white", line=dict(color="black", width=1), layer="above"),
    dict(type="line", xref="paper", yref="paper", x0=px(1067), x1=px(1101), y0=py(236.7), y1=py(236.7),
         line=dict(color=RED, width=3.5, dash="11px,6px"), layer="above"),
    dict(type="line", xref="paper", yref="paper", x0=px(1067), x1=px(1105), y0=py(258.3), y1=py(258.3),
         line=dict(color="rgb(190,190,193)", width=4), layer="above"),
]
fig.update_layout(shapes=shapes)

NB = "\u00a0"
ann = [
    dict(text=LEGEND_LEFT[0], x=px(490), y=py(20.5), xanchor="left",
         font=dict(family=SANS, size=18, color=TXT)),
    dict(text=LEGEND_LEFT[1], x=px(490), y=py(39.3), xanchor="left",
         font=dict(family=SANS, size=18, color=TXT)),
    dict(text=LEGEND_RIGHT[0], x=px(1121), y=py(236.7), xanchor="left",
         font=dict(family=SANS, size=19.5, color=TXT)),
    dict(text=LEGEND_RIGHT[1], x=px(1123), y=py(258.3), xanchor="left",
         font=dict(family=SANS, size=19.5, color=TXT)),
    dict(text="<b>a)" + NB * 2 + "Flight test airspeed measurement and <i>α</i> and <i>β</i> estimates</b>",
         x=px(22), y=py(512), xanchor="left", font=dict(family=SERIF, size=20, color="#111")),
    dict(text="<b>b)" + NB * 2 + "Flight test <i>α</i> and <i>β</i> estimate error and its 3" + "\u2212"
         + "<i>σ</i>" + NB * 2 + "bound</b>",
         x=px(749), y=py(512), xanchor="left", font=dict(family=SERIF, size=20, color="#111")),
    dict(text="<b>Fig. 15" + NB * 6 + "Flight-test results: <i>α</i> and <i>β</i>.</b>",
         x=px(700), y=py(539), xanchor="center", font=dict(family=SERIF, size=20, color="#111")),
]
for a in ann:
    a.update(xref="paper", yref="paper", yanchor="middle", showarrow=False)
fig.update_layout(annotations=ann)

fig.write_html("out.html",
               post_script="document.body.style.margin='0';document.body.style.overflow='hidden';")
